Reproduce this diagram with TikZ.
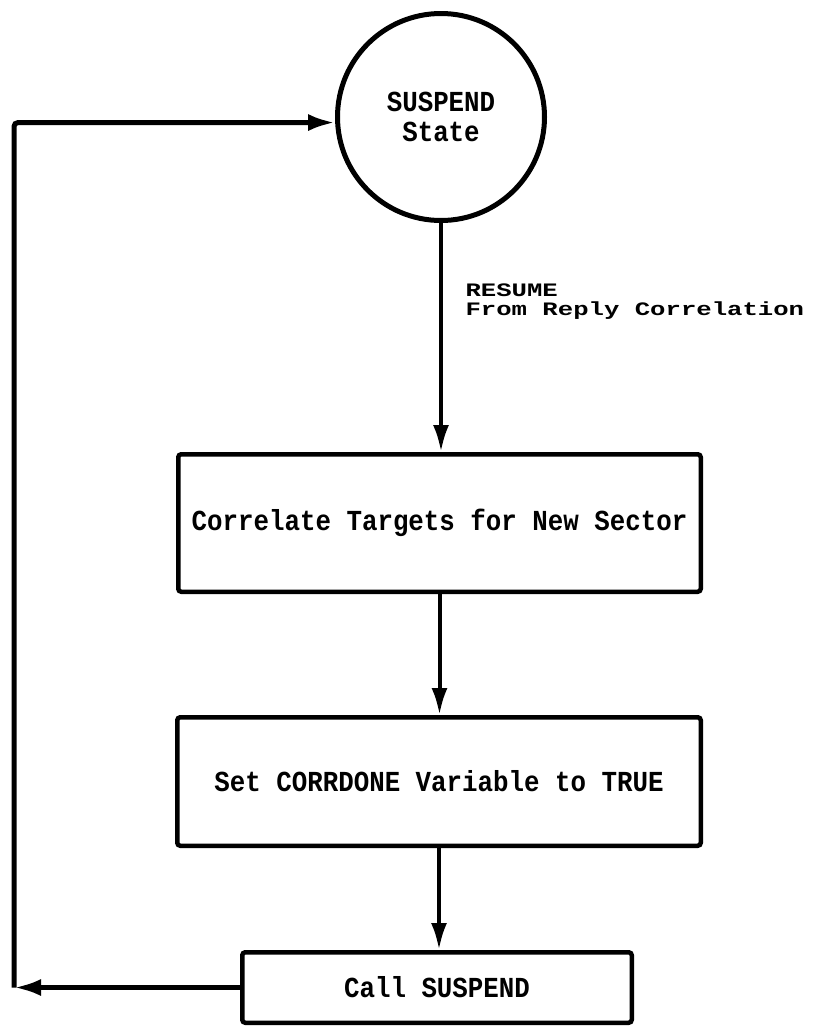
\documentclass[tikz,border=0pt]{standalone}
\usepackage{fontspec}
\usetikzlibrary{arrows.meta}
\newfontfamily\typefont[FakeStretch=0.89]{Liberation Mono}
\newfontfamily\notefont[FakeStretch=1.35]{Liberation Mono}
\tikzset{
  state/.style={circle, draw=black, line width=5pt, minimum size=207pt, inner sep=0pt,
    align=center, font=\typefont\bfseries\fontsize{29}{30}\selectfont},
  proc/.style={rectangle, rounded corners=3pt, draw=black, line width=4.5pt, inner sep=0pt,
    font=\typefont\bfseries\fontsize{29}{30}\selectfont},
  flow/.style={line width=4pt, -{Latex[length=27pt,width=16pt]}},
  loopback/.style={line width=5pt, rounded corners=4pt, -{Latex[length=27pt,width=17pt]}}
}
\begin{document}
\begin{tikzpicture}[x=1pt, y=-1pt]
    \useasboundingbox (0,0) rectangle (814,1028);
    % The state and the three steps.
    \node[state] (suspend) at (441,117) {SUSPEND\\State};
    \node[proc, minimum width=522.5pt, minimum height=137.5pt] (correlate) at (439.5,523) {Correlate Targets for New Sector};
    \node[proc, minimum width=523.5pt, minimum height=128.5pt] (setvar) at (439,781.5) {Set CORRDONE Variable to TRUE};
    \node[proc, minimum width=389.5pt, minimum height=70.5pt] (call) at (437,987.5) {Call SUSPEND};
    \node[anchor=west, align=left, font=\notefont\bfseries\fontsize{19}{19}\selectfont] (resume) at (462,302) {RESUME\\From Reply Correlation};
    % Draw the flow down the steps.
    \draw[flow] (suspend.south) -- (suspend.south |- correlate.north);
    \draw[flow] (correlate.south) -- (correlate.south |- setvar.north);
    \draw[flow] (setvar.south) -- (setvar.south |- call.north);
    % Draw the way back to the state.
    \coordinate (corner) at (14,987.5);
    \draw[loopback] (call.west) -- (corner);
    \draw[loopback] (corner) |- (suspend.183);
  \end{tikzpicture}
\end{document}
